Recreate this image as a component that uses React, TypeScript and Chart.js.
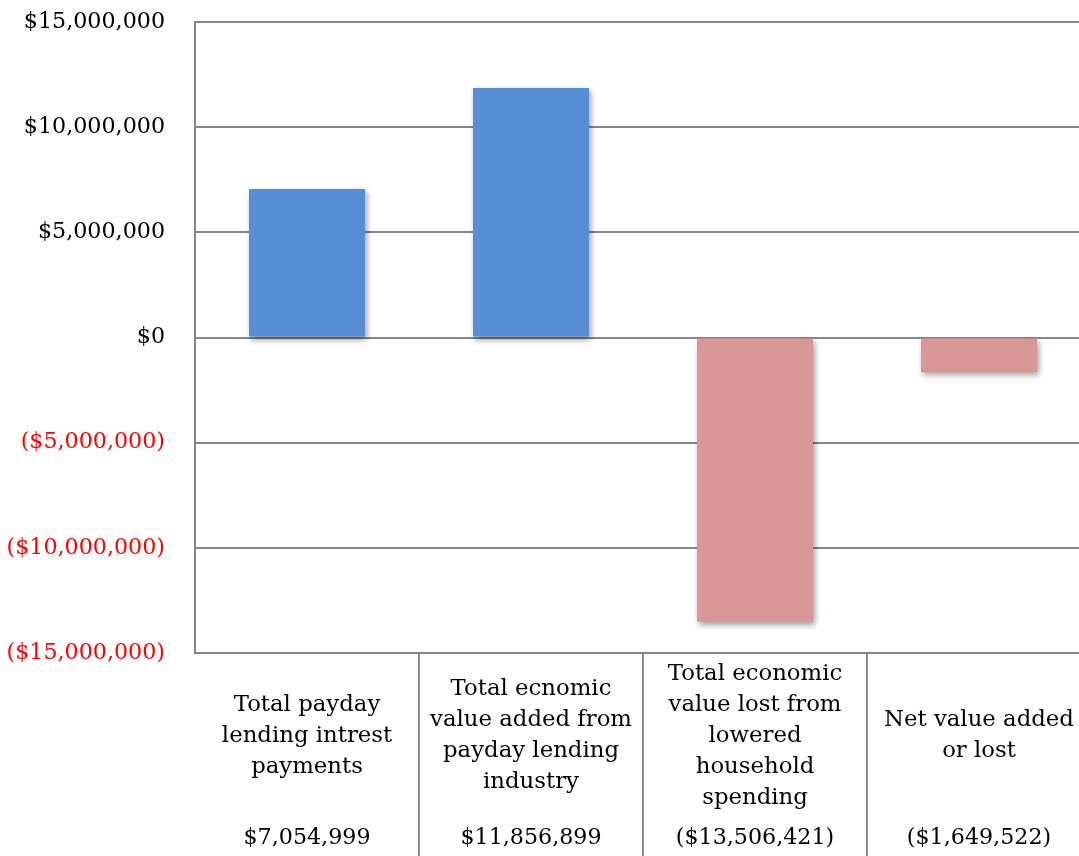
import React, { useEffect, useRef } from "react";
import { Chart, registerables } from "chart.js";

Chart.register(...registerables);

const categoryLines: string[][] = [
  ["Total payday", "lending intrest", "payments"],
  ["Total ecnomic", "value added from", "payday lending", "industry"],
  ["Total economic", "value lost from", "lowered", "household", "spending"],
  ["Net value added", "or lost"],
];
const categoryKeys = ["interest", "added", "lost", "net"];
const values = [7054999, 11856899, -13506421, -1649522];
const barColors = ["#558ED5", "#558ED5", "#D99694", "#D99694"];
const yMin = -15000000;
const yMax = 15000000;
const yStep = 5000000;

const FONT = '"DejaVu Serif", serif';

function fmtMoney(v: number): string {
  const s = "$" + Math.abs(v).toLocaleString("en-US");
  return v < 0 ? "(" + s + ")" : s;
}

const shadowPlugin = {
  id: "barShadow",
  beforeDatasetsDraw(chart: any) {
    const ctx = chart.ctx;
    ctx.save();
    ctx.shadowColor = "rgba(0,0,0,0.38)";
    ctx.shadowBlur = 6;
    ctx.shadowOffsetX = 2;
    ctx.shadowOffsetY = 3;
  },
  afterDatasetsDraw(chart: any) {
    chart.ctx.restore();
  },
};

const tablePlugin = {
  id: "dataTable",
  afterDraw(chart: any) {
    const ctx = chart.ctx;
    const xs = chart.scales.x;
    const area = chart.chartArea;
    const n = categoryKeys.length;
    ctx.save();
    ctx.strokeStyle = "#8C8C8C";
    ctx.lineWidth = 2;
    for (let i = 0; i < n - 1; i++) {
      const bx = Math.round((xs.getPixelForValue(i) + xs.getPixelForValue(i + 1)) / 2);
      ctx.beginPath();
      ctx.moveTo(bx, area.bottom);
      ctx.lineTo(bx, chart.height);
      ctx.stroke();
    }
    ctx.fillStyle = "#000000";
    ctx.textAlign = "center";
    ctx.textBaseline = "middle";
    const lineH = 31;
    const labelCenter = area.bottom + 83;
    const valueY = area.bottom + 185;
    for (let i = 0; i < n; i++) {
      const cx = xs.getPixelForValue(i);
      const lines = categoryLines[i];
      ctx.font = "22.8px " + FONT;
      const start = labelCenter - ((lines.length - 1) * lineH) / 2;
      lines.forEach((ln, j) => ctx.fillText(ln, cx, start + j * lineH));
      ctx.font = "22.2px " + FONT;
      ctx.fillText(fmtMoney(values[i]), cx, valueY);
    }
    ctx.restore();
  },
};

export default function App() {
  const ref = useRef<HTMLCanvasElement | null>(null);
  useEffect(() => {
    document.body.style.margin = "0";
    const chart = new Chart(ref.current as HTMLCanvasElement, {
      type: "bar",
      data: {
        labels: categoryKeys,
        datasets: [
          {
            data: values,
            backgroundColor: barColors,
            borderWidth: 0,
            barPercentage: 0.518,
            categoryPercentage: 1,
          },
        ],
      },
      plugins: [shadowPlugin, tablePlugin],
      options: {
        animation: false,
        responsive: true,
        maintainAspectRatio: false,
        layout: { padding: { top: 22, bottom: 203, left: 0, right: 0 } },
        plugins: { legend: { display: false }, tooltip: { enabled: false } },
        scales: {
          x: { display: false },
          y: {
            min: yMin,
            max: yMax,
            afterFit: (s: any) => {
              s.width = 195;
              s.paddingTop = 13;
              s.paddingBottom = 13;
            },
            border: { display: true, color: "#868686", width: 2 },
            grid: { color: "#868686", lineWidth: 2, drawTicks: false },
            ticks: {
              stepSize: yStep,
              padding: 30,
              font: { family: FONT, size: 22.2 },
              color: (c: any) => (c.tick && c.tick.value < 0 ? "#FF0000" : "#000000"),
              callback: (v: any) => fmtMoney(Number(v)),
            },
          },
        },
      },
    });
    return () => chart.destroy();
  }, []);
  return (
    <div style={{ width: 1079, height: 856, overflow: "hidden", position: "relative" }}>
      <div style={{ width: 1091, height: 856, position: "relative" }}>
        <canvas ref={ref} />
      </div>
    </div>
  );
}
